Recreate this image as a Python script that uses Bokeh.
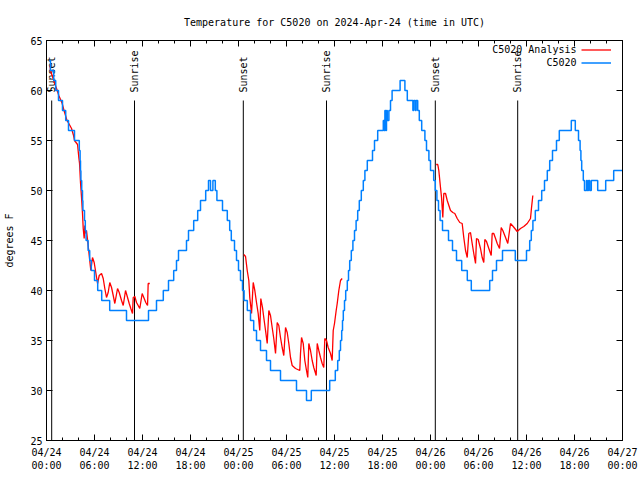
import math
from bokeh.plotting import figure
from bokeh.models import LinearAxis, FixedTicker, Legend, LegendItem, Range1d, Label
from bokeh.core.properties import value
from bokeh.embed import file_html
from bokeh.resources import INLINE

FONT = "DejaVu Sans Mono"

title_text = "Temperature for C5020 on 2024-Apr-24 (time in UTC)"
y_label = "degrees F"
series_names = ["C5020 Analysis", "C5020"]

# x axis: hours since 04/24 00:00 UTC
x_ticks = [0, 6, 12, 18, 24, 30, 36, 42, 48, 54, 60, 66, 72]
x_tick_labels = ["04/24\n00:00", "04/24\n06:00", "04/24\n12:00", "04/24\n18:00",
                 "04/25\n00:00", "04/25\n06:00", "04/25\n12:00", "04/25\n18:00",
                 "04/26\n00:00", "04/26\n06:00", "04/26\n12:00", "04/26\n18:00",
                 "04/27\n00:00"]
x_minor_ticks = list(range(0, 73, 2))
y_ticks = [25, 30, 35, 40, 45, 50, 55, 60, 65]

event_names = ["Sunset", "Sunrise", "Sunset", "Sunrise", "Sunset", "Sunrise"]
event_hours = [0.65, 11.0, 24.6, 35.0, 48.6, 58.9]

# observed C5020 (step changes): hours, degrees F
obs_hours = [0.33, 0.5, 0.9, 1.15, 1.5, 2.0, 2.4, 2.75, 3.5, 4.1, 4.2, 4.25, 4.3, 4.4, 4.5, 4.55,
             4.75, 4.85, 4.95, 5.2, 5.4, 5.6, 6.0, 6.4, 6.9, 7.9, 10.0, 12.75, 13.75, 14.6,
             15.25, 15.9, 16.25, 16.5, 17.5, 17.75, 18.4, 18.9, 19.25, 19.9, 20.25, 20.5,
             20.8, 21.1, 21.3, 22.0, 22.6, 22.9, 23.1, 23.5, 23.75, 24.0, 24.25, 24.5, 24.7,
             25.1, 25.5, 25.9, 26.25, 26.75, 27.5, 28.0, 29.25, 31.25, 32.5, 33.1, 35.4,
             36.1, 36.4, 36.6, 36.75, 36.9, 37.0, 37.1, 37.25, 37.4, 37.6, 37.75, 37.9, 38.1,
             38.3, 38.5, 38.7, 38.9, 39.1, 39.35, 39.6, 39.8, 40.1, 40.75, 41.0, 41.4, 42.1,
             42.2, 42.3, 42.4, 42.5, 42.6, 42.8, 43.0, 43.2, 44.2, 44.8, 45.1, 45.8, 45.9,
             46.1, 46.2, 46.4, 46.6, 46.9, 47.3, 47.5, 47.8, 48.0, 48.4, 48.6, 48.8, 49.0,
             49.2, 49.5, 50.25, 50.75, 51.25, 51.9, 52.6, 53.1, 55.4, 55.75, 56.25, 57.0,
             58.6, 60.0, 60.4, 60.6, 60.8, 61.1, 61.5, 61.9, 62.25, 62.6, 62.9, 63.25,
             63.75, 64.1, 65.6, 66.1, 66.5, 66.7, 66.8, 66.9, 67.1, 67.25, 67.5, 67.6,
             67.75, 67.9, 68.1, 68.9, 69.9, 70.9, 72.0]
obs_temps = [63, 62, 61, 60, 59, 58, 57, 56, 55, 54, 53, 52, 51, 50, 49, 48,
             47, 46, 45, 44, 43, 42, 41, 40, 39, 38, 37, 38, 39, 40,
             41, 42, 43, 44, 45, 46, 47, 48, 49, 50, 51, 50,
             51, 50, 49, 48, 47, 46, 45, 44, 43, 42, 41, 40, 39,
             38, 37, 36, 35, 34, 33, 32, 31, 30, 29, 30, 31,
             32, 33, 34, 35, 36, 37, 38, 39, 40, 41, 42, 43, 44,
             45, 46, 47, 48, 49, 50, 51, 52, 53, 54, 55, 56, 57,
             56, 58, 56, 58, 57, 58, 59, 60, 61, 60, 59, 58, 59,
             58, 59, 58, 57, 56, 55, 54, 53, 52, 51, 50, 49, 48,
             47, 46, 45, 44, 43, 42, 41, 40, 41, 42, 43, 44,
             43, 44, 45, 46, 47, 48, 49, 50, 51, 52, 53, 54,
             55, 56, 57, 56, 55, 54, 53, 52, 51, 50, 51, 50,
             51, 50, 51, 50, 51, 52, 52]

# analysis C5020, three overnight runs
ana1_hours = [0.44, 0.5, 0.91, 1.34, 1.54, 1.96, 2.19, 2.38, 2.56, 2.79, 3.13, 3.38, 3.5, 3.69,
              3.88, 4.04, 4.13, 4.25, 4.38, 4.5, 4.59, 4.71, 4.79, 4.91, 5.0, 5.21, 5.34, 5.54,
              5.75, 5.96, 6.16, 6.38, 6.59, 6.88, 7.09, 7.29, 7.5, 7.71, 7.91, 8.13, 8.34,
              8.54, 8.88, 9.09, 9.38, 9.59, 9.88, 10.13, 10.34, 10.54, 10.75, 10.84, 11.04,
              11.25, 11.46, 11.66, 11.96, 12.16, 12.41, 12.63, 12.71, 12.91]
ana1_temps = [62.5, 62.0, 61.0, 60.0, 59.5, 58.7, 58.0, 57.5, 57.0, 56.7, 56.2, 55.5, 55.0, 54.8,
              54.6, 53.3, 52.7, 50.8, 49.3, 47.7, 46.2, 45.2, 46.5, 45.7, 46.0, 44.5, 43.5, 42.0,
              43.3, 42.8, 41.8, 40.7, 41.5, 41.7, 41.2, 40.2, 39.3, 39.8, 40.8, 40.3, 39.5,
              38.7, 40.2, 39.8, 39.0, 38.5, 40.0, 39.3, 38.7, 38.2, 37.7, 39.3, 39.4,
              38.8, 38.5, 38.2, 39.7, 39.3, 38.8, 38.5, 40.7, 40.7]
ana2_hours = [24.66, 24.88, 25.09, 25.29, 25.41, 25.63, 25.84, 26.04, 26.25, 26.46, 26.66, 26.79,
              27.0, 27.16, 27.38, 27.59, 27.79, 28.0, 28.21, 28.41, 28.63, 28.84, 29.04, 29.25,
              29.46, 29.66, 29.88, 30.09, 30.29, 30.5, 30.71, 31.13, 31.66, 31.75, 31.88, 32.09,
              32.29, 32.5, 32.66, 32.79, 33.0, 33.21, 33.41, 33.71, 33.84, 34.04, 34.25, 34.46,
              34.66, 34.79, 35.0, 35.21, 35.5, 35.71, 35.84, 36.0, 36.21, 36.34, 36.54, 36.75,
              36.96]
ana2_temps = [43.6, 43.4, 42.0, 41.0, 39.3, 37.7, 40.8, 40.0, 38.8, 37.7, 36.0, 39.2,
              38.3, 37.3, 36.0, 34.7, 38.0, 37.5, 36.3, 35.2, 33.7, 36.8, 36.5, 35.3,
              34.3, 33.5, 36.3, 35.8, 34.7, 33.3, 32.5, 32.2, 32.0, 33.7, 35.3, 34.7,
              33.0, 32.0, 31.3, 34.7, 34.0, 33.0, 32.3, 31.5, 34.7, 34.0, 33.3, 32.7,
              32.3, 35.2, 35.0, 34.3, 33.7, 33.0, 36.0, 36.7, 38.0, 38.7, 40.0, 41.0,
              41.2]
ana3_hours = [48.71, 48.91, 49.04, 49.25, 49.38, 49.54, 49.66, 49.88, 50.09, 50.5, 50.79, 51.04,
              51.34, 51.66, 51.96, 52.16, 52.38, 52.59, 52.79, 53.0, 53.21, 53.41, 53.63, 53.75,
              53.96, 54.25, 54.46, 54.66, 54.79, 55.0, 55.29, 55.59, 55.71, 55.91, 56.13, 56.34,
              56.63, 56.84, 57.04, 57.38, 57.66, 57.88, 58.0, 58.34, 58.84, 59.25, 59.66, 60.09,
              60.5, 60.63, 60.79]
ana3_temps = [52.6, 52.6, 52.0, 50.3, 49.3, 47.3, 49.7, 49.7, 49.0, 48.0, 47.8, 47.7,
              47.2, 46.8, 46.7, 45.3, 44.0, 43.3, 45.7, 45.8, 44.7, 43.7, 42.7, 45.2,
              45.1, 44.2, 43.3, 42.8, 45.1, 44.9, 44.2, 43.5, 45.7, 45.7, 45.2, 44.7,
              44.2, 46.3, 46.0, 45.3, 44.7, 46.0, 46.7, 46.4, 45.9, 46.2, 46.4, 46.7,
              47.2, 48.3, 49.5]

RED = "#ff0000"
BLUE = "#0080ff"
FS = "10px"

p = figure(width=640, height=480, output_backend="svg", toolbar_location=None,
           x_range=Range1d(0, 72), y_range=Range1d(25, 65),
           min_border_left=46, min_border_right=18, min_border_top=40, min_border_bottom=40,
           background_fill_color="white", border_fill_color="white")
p.grid.visible = False
p.outline_line_color = "black"
p.outline_line_width = 1

p.title.text = title_text
p.title.align = "center"
p.title.text_font = FONT
p.title.text_font_size = FS
p.title.text_font_style = "normal"
p.title.text_color = "black"
p.title.standoff = 25

def style_axis(ax):
    ax.axis_line_color = "black"
    ax.major_tick_line_color = "black"
    ax.minor_tick_line_color = "black"
    ax.major_tick_in = 6
    ax.major_tick_out = 0
    ax.minor_tick_in = 3
    ax.minor_tick_out = 0
    ax.major_label_text_font = FONT
    ax.major_label_text_font_size = FS
    ax.major_label_text_color = "black"
    ax.axis_label_text_font = FONT
    ax.axis_label_text_font_size = FS
    ax.axis_label_text_font_style = "normal"
    ax.axis_label_text_color = "black"

xa = p.xaxis[0]
xa.ticker = FixedTicker(ticks=x_ticks, minor_ticks=x_minor_ticks)
xa.major_label_overrides = {t: lab for t, lab in zip(x_ticks, x_tick_labels)}
style_axis(xa)
xa.major_label_standoff = 6

ya = p.yaxis[0]
ya.ticker = FixedTicker(ticks=y_ticks, minor_ticks=[])
style_axis(ya)
ya.major_label_standoff = 4
ya.axis_label = y_label
ya.axis_label_standoff = 12

top = LinearAxis(ticker=FixedTicker(ticks=x_ticks, minor_ticks=x_minor_ticks))
style_axis(top)
top.major_label_overrides = {t: "" for t in x_ticks}
top.major_label_standoff = 0
p.add_layout(top, "above")

right = LinearAxis(ticker=FixedTicker(ticks=y_ticks, minor_ticks=[]))
style_axis(right)
right.major_label_overrides = {t: "" for t in y_ticks}
right.major_label_standoff = 0
p.add_layout(right, "right")

# sunrise / sunset markers
marker_top = 59
p.segment(x0=event_hours, x1=event_hours, y0=[25] * len(event_hours),
          y1=[marker_top] * len(event_hours), line_color="black", line_width=1)
p.text(x=event_hours, y=[marker_top + 0.8] * len(event_hours), text=event_names,
       angle=math.pi / 2, text_align="left", text_baseline="middle",
       text_font=value(FONT), text_font_size=FS, text_color="black")

r_red = []
for hx, ty in ((ana1_hours, ana1_temps), (ana2_hours, ana2_temps), (ana3_hours, ana3_temps)):
    r_red.append(p.line(hx, ty, line_color=RED, line_width=1.3))
r_blue = p.step(obs_hours, obs_temps, mode="after", line_color=BLUE, line_width=1.5)

# legend samples (right of the text, like the reference); texts drawn as labels
legend = Legend(items=[LegendItem(label=series_names[0], renderers=[r_red[0]]),
                       LegendItem(label=series_names[1], renderers=[r_blue])],
                location=(535, 371), orientation="vertical",
                glyph_width=30, glyph_height=13, label_height=13, label_width=1,
                label_standoff=0, spacing=0, padding=0, margin=0,
                label_text_alpha=0, label_text_font_size="1px",
                border_line_color=None, background_fill_alpha=0)
p.add_layout(legend)

for name, ly in zip(series_names, [64.1, 62.8]):
    p.add_layout(Label(x=66.25, y=ly, text=name, text_align="right", text_baseline="middle",
                       text_font=FONT, text_font_size=FS, text_color="black"))

open("out.html", "w").write(file_html(p, INLINE))
